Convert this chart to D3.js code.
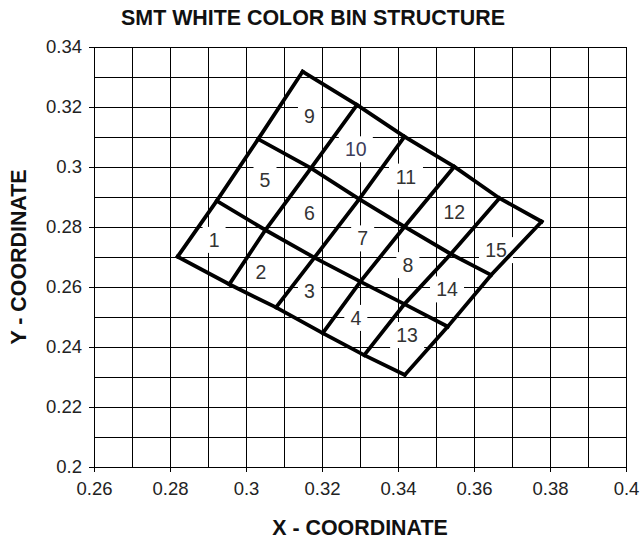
<!DOCTYPE html>
<html><head><meta charset="utf-8">
<script src="https://cdn.jsdelivr.net/npm/d3@7/dist/d3.min.js"></script>
<style>body{margin:0;background:#fff}svg{display:block}</style>
</head><body>
<script>
// ---- data ----
const chartTitle = "SMT WHITE COLOR BIN STRUCTURE";
const xTitle = "X - COORDINATE";
const yTitle = "Y - COORDINATE";
const xTickValues = [0.26, 0.28, 0.30, 0.32, 0.34, 0.36, 0.38, 0.40];
const xTickLabels = ["0.26", "0.28", "0.3", "0.32", "0.34", "0.36", "0.38", "0.4"];
const yTickValues = [0.20, 0.22, 0.24, 0.26, 0.28, 0.30, 0.32, 0.34];
const yTickLabels = ["0.2", "0.22", "0.24", "0.26", "0.28", "0.3", "0.32", "0.34"];
const xGridValues = [0.26,0.27,0.28,0.29,0.30,0.31,0.32,0.33,0.34,0.35,0.36,0.37,0.38,0.39,0.40];
const yGridValues = [0.20,0.21,0.22,0.23,0.24,0.25,0.26,0.27,0.28,0.29,0.30,0.31,0.32,0.33,0.34];

// bin boundary rows (x, y chromaticity), from lower-left edge to upper edge
const boundaryRow0 = [[0.2820,0.2701],[0.2956,0.2609],[0.3079,0.2532],[0.3202,0.2446],[0.3311,0.2373],[0.3418,0.2307]];
const boundaryRow1 = [[0.2923,0.2887],[0.3051,0.2790],[0.3180,0.2698],[0.3301,0.2618],[0.3417,0.2543],[0.3531,0.2468]];
const boundaryRow2 = [[0.3032,0.3093],[0.3171,0.2996],[0.3298,0.2893],[0.3417,0.2801],[0.3539,0.2710],[0.3645,0.2640]];
const boundaryRow3 = [[0.3149,0.3318],[0.3292,0.3207],[0.3417,0.3101],[0.3548,0.3001],[0.3667,0.2896],[0.3778,0.2818]];

const binNames  = ["1","2","3","4","5","6","7","8","9","10","11","12","13","14","15"];
const binLabelX = [0.2916,0.3039,0.3167,0.3289,0.3050,0.3167,0.3307,0.3426,0.3167,0.3289,0.3421,0.3548,0.3424,0.3529,0.3658];
const binLabelY = [0.2757,0.2650,0.2588,0.2497,0.2957,0.2848,0.2762,0.2673,0.3170,0.3059,0.2968,0.2851,0.2440,0.2592,0.2723];

// ---- drawing ----
const W = 640, H = 544;
const m = {left: 94, right: 14, top: 47, bottom: 77};
const svg = d3.select("body").append("svg").attr("width", W).attr("height", H);
const x = d3.scaleLinear().domain([0.26, 0.40]).range([m.left, W - m.right]);
const y = d3.scaleLinear().domain([0.20, 0.34]).range([H - m.bottom, m.top]);
const font = "'Liberation Sans', Arial, sans-serif";

const snap = v => Math.round(v) + 0.5;

// grid
const g = svg.append("g");
g.selectAll("line.vx").data(xGridValues).join("line")
  .attr("x1", d => snap(x(d))).attr("x2", d => snap(x(d)))
  .attr("y1", y(0.20)).attr("y2", y(0.34))
  .attr("stroke", "#000").attr("stroke-width", 1);
g.selectAll("line.hy").data(yGridValues).join("line")
  .attr("y1", d => snap(y(d))).attr("y2", d => snap(y(d)))
  .attr("x1", x(0.26)).attr("x2", x(0.40))
  .attr("stroke", "#000").attr("stroke-width", 1);

// axes
const xAxis = d3.axisBottom(x).tickValues(xTickValues).tickFormat((d, i) => xTickLabels[i])
  .tickSizeInner(5).tickSizeOuter(0).tickPadding(10);
const yAxis = d3.axisLeft(y).tickValues(yTickValues).tickFormat((d, i) => yTickLabels[i])
  .tickSizeInner(5).tickSizeOuter(0).tickPadding(7);
const gx = svg.append("g").attr("transform", `translate(0,${snap(y(0.20)) - 0.5})`).call(xAxis);
const gy = svg.append("g").attr("transform", `translate(${snap(x(0.26)) - 0.5},0)`).call(yAxis);
[gx, gy].forEach(a => {
  a.selectAll("path").attr("stroke", "#000");
  a.selectAll("line").attr("stroke", "#000");
  a.selectAll("text").attr("font-family", font).attr("font-size", 18.5).attr("fill", "#222");
});

// label backgrounds
const labelData = binNames.map((n, i) => ({n, x: binLabelX[i], y: binLabelY[i]}));
const lg = svg.append("g");
lg.selectAll("rect").data(labelData).join("rect")
  .attr("x", d => x(d.x) - (d.n.length * 11 + 12) / 2)
  .attr("y", d => y(d.y) - 13)
  .attr("width", d => d.n.length * 11 + 12)
  .attr("height", 26)
  .attr("fill", "#fff");

// bin boundary lines
const rows = [boundaryRow0, boundaryRow1, boundaryRow2, boundaryRow3];
const cols = boundaryRow0.map((_, i) => rows.map(r => r[i]));
const line = d3.line().x(d => x(d[0])).y(d => y(d[1]));
svg.append("g").selectAll("path").data(rows.concat(cols)).join("path")
  .attr("d", line).attr("fill", "none").attr("stroke", "#000")
  .attr("stroke-width", 3.8).attr("stroke-linejoin", "miter").attr("stroke-linecap", "square");

// bin labels
svg.append("g").selectAll("text").data(labelData).join("text")
  .attr("x", d => x(d.x)).attr("y", d => y(d.y))
  .attr("dy", "0.36em").attr("text-anchor", "middle")
  .attr("font-family", font).attr("font-size", 19.5)
  .attr("fill", d => d.n === "10" ? "#3c3c5a" : "#333")
  .text(d => d.n);

// titles
svg.append("text").attr("x", 313).attr("y", 25).attr("text-anchor", "middle")
  .attr("font-family", font).attr("font-weight", "bold").attr("font-size", 21.4)
  .attr("fill", "#111").text(chartTitle);
svg.append("text").attr("x", (x(0.26) + x(0.40)) / 2).attr("y", 535).attr("text-anchor", "middle")
  .attr("font-family", font).attr("font-weight", "bold").attr("font-size", 21.4)
  .attr("fill", "#111").text(xTitle);
svg.append("text")
  .attr("transform", `translate(26,${(y(0.20) + y(0.34)) / 2}) rotate(-90)`)
  .attr("text-anchor", "middle")
  .attr("font-family", font).attr("font-weight", "bold").attr("font-size", 21.4)
  .attr("fill", "#111").text(yTitle);
</script>
</body></html>
